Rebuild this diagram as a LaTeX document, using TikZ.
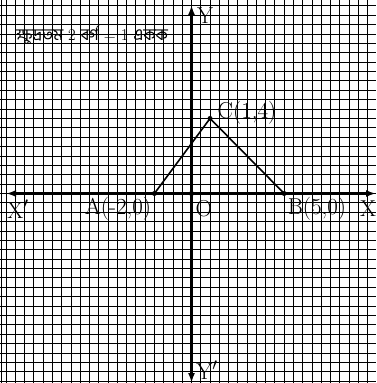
\documentclass[tikz,border=0pt]{standalone}
\usepackage{fontspec}
\newfontfamily\bnfont[Script=Bengali]{Hind Siliguri}
\usetikzlibrary{arrows.meta}
\tikzset{
  gridline/.style={line width=0.9pt, black},
  axisline/.style={line width=2.2pt, black, {Latex[length=10pt,width=7pt]}-{Latex[length=10pt,width=7pt]}},
  edgeline/.style={line width=1.6pt, black},
  dotnode/.style={circle, fill=black, inner sep=0pt, minimum size=5pt},
  lbl/.style={inner sep=0pt, font=\fontsize{23}{25}\selectfont},
}
\begin{document}
\begin{tikzpicture}[x=1pt,y=-1pt]
\useasboundingbox (0,0) rectangle (376,383);
\fill[white] (0,0) rectangle (376,383);
% grid
\foreach \i in {-20,...,19} \draw[gridline] ({191.5+\i*9.27},0) -- ({191.5+\i*9.27},383);
\foreach \j in {-20,...,20} \draw[gridline] (0,{193.5+\j*9.38}) -- (376,{193.5+\j*9.38});
\draw[gridline] (1.5,0) -- (1.5,383);
% axes
\coordinate (xl) at (6,193.5);
\coordinate (xr) at (376,193.5);
\coordinate (yt) at (191.5,5);
\coordinate (yb) at (191.5,383);
\draw[axisline] (xl) -- (xr);
\draw[axisline] (yt) -- (yb);
% points
\node[dotnode] (O) at (191.5,193.5) {};
\node[dotnode] (A) at ({191.5-4*9.27},193.5) {};
\node[dotnode] (B) at ({191.5+10*9.27},193.5) {};
\node[dotnode] (C) at ({191.5+2*9.27},{193.5-8*9.38}) {};
\draw[edgeline] (A.center) -- (C.center) -- (B.center);
% labels
\node[lbl] (lY) at (205,16) {Y};
\node[lbl] (lYp) at (207,370) {Y$'$};
\node[lbl] (lXp) at (18,209) {X$'$};
\node[lbl] (lX) at (368,209) {X};
\node[lbl] (lA) at (118,209) {A(-2,0)};
\node[lbl] (lO) at (204,209) {O};
\node[lbl] (lB) at (317,209) {B(5,0)};
\node[lbl] (lC) at (247,113) {C(1,4)};
\node[inner sep=0pt, font=\fontsize{16.5}{18}\selectfont] (note) at (92,35) {{\bnfont ক্ষুদ্রতম} 2 {\bnfont বর্গ} = 1 {\bnfont একক}};
\end{tikzpicture}
\end{document}
